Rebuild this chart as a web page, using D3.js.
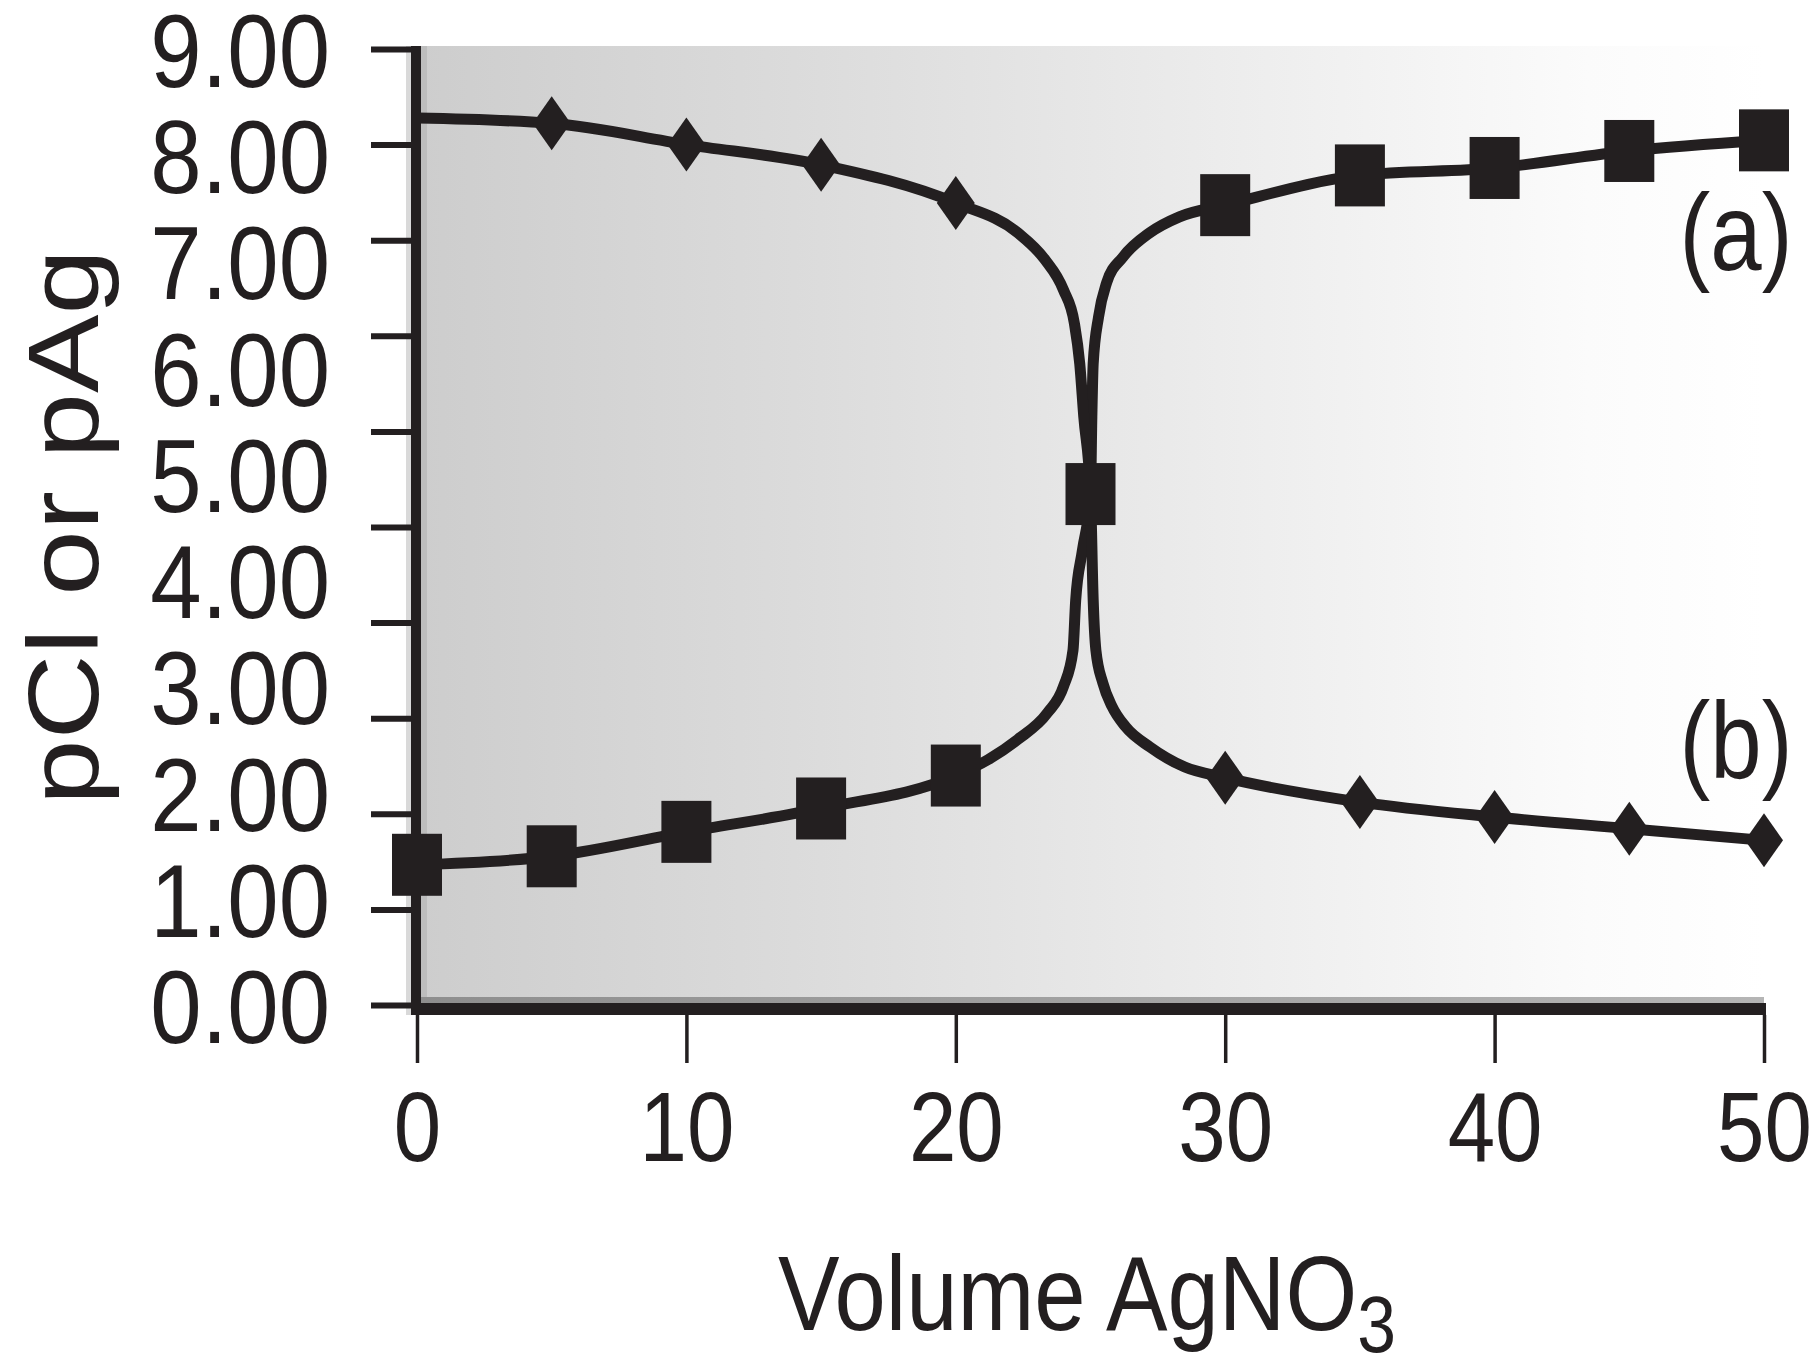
<!DOCTYPE html>
<html>
<head>
<meta charset="utf-8">
<script src="https://cdn.jsdelivr.net/npm/d3@7"></script>
<style>
    body { margin: 0; background: #ffffff; }
    svg { display: block; }
    text { font-family: "Liberation Sans", Arial, sans-serif; fill: #231f20; }
</style>
</head>
<body>
<svg id="chart"></svg>
<script>
'use strict';

// marker volumes (mL AgNO3) and readings of the two curves
var volumes = [0, 5, 10, 15, 20, 25, 30, 35, 40, 45, 50];
var pClValues = [1.32, 1.40, 1.63, 1.85, 2.16, 4.81, 7.53, 7.81, 7.88, 8.04, 8.14];
var pAgValues = [8.35, 8.30, 8.10, 7.91, 7.55, 4.81, 2.14, 1.91, 1.77, 1.66, 1.55];

var pClBendVolumes = [21.2, 22.3, 23.4, 24.0, 24.35, 24.45, 24.7, 25.05, 25.1, 25.3, 25.6, 26.2, 27.2, 28.3];
var pClBendValues = [2.31, 2.50, 2.75, 3.00, 3.34, 3.81, 4.28, 5.54, 6.04, 6.48, 6.80, 7.04, 7.27, 7.42];
var pAgBendVolumes = [22.3, 23.3, 24.0, 24.4, 24.6, 24.75, 25.1, 25.2, 25.46, 25.8, 26.3, 27.2, 28.5];
var pAgBendValues = [7.27, 7.02, 6.73, 6.42, 6.04, 5.54, 3.81, 3.34, 3.03, 2.81, 2.62, 2.43, 2.24];

var yTickLabels = [0, 1, 2, 3, 4, 5, 6, 7, 8, 9];
var yTickMarks = [0, 0.9, 1.8, 2.7, 3.6, 4.5, 5.4, 6.3, 7.2, 8.1, 9];   // the original has 11 marks for 10 labels
var xTickLabels = [0, 10, 20, 30, 40, 50];
var seriesLabels = ['(a)', '(b)'];
var seriesLabelValues = [6.92, 2.14];

var canvasWidth = 1820;
var canvasHeight = 1362;
var ink = '#231f20';
var squeeze = 0.87;   // the printed figure is narrow type

var svg = d3.select('svg')
    .attr('width', canvasWidth)
    .attr('height', canvasHeight);

var xScale = d3.scaleLinear().domain([0, 50]).range([417, 1764]);
var yScale = d3.scaleLinear().domain([0, 9]).range([1005, 49]);

function zipSorted(xs, ys, bx, by) {
    var pts = xs.map(function (x, i) { return [x, ys[i]]; })
        .concat(bx.map(function (x, i) { return [x, by[i]]; }));
    return pts.sort(function (a, b) { return a[0] - b[0]; });
}

// background gradient panel
var defs = svg.append('defs');
var grad = defs.append('linearGradient').attr('id', 'bg').attr('x1', 0).attr('x2', 1).attr('y1', 0).attr('y2', 0);
grad.append('stop').attr('offset', 0).attr('stop-color', '#cdcdcd');
grad.append('stop').attr('offset', 0.3).attr('stop-color', '#dcdcdc');
grad.append('stop').attr('offset', 0.65).attr('stop-color', '#efefef');
grad.append('stop').attr('offset', 0.87).attr('stop-color', '#fbfbfb');
grad.append('stop').attr('offset', 1).attr('stop-color', '#ffffff');
var shade = defs.append('linearGradient').attr('id', 'shade').attr('x1', 0).attr('x2', 1).attr('y1', 0).attr('y2', 0);
shade.append('stop').attr('offset', 0).attr('stop-color', '#8e8e8e');
shade.append('stop').attr('offset', 1).attr('stop-color', '#b5b5b5');

svg.append('rect')
    .attr('x', xScale(0) - 1).attr('y', yScale(9) - 3)
    .attr('width', xScale(50) - xScale(0) + 1)
    .attr('height', yScale(0) - yScale(9) + 7)
    .attr('fill', 'url(#bg)');
// thin shadows along the axes
svg.append('rect')
    .attr('x', xScale(0) + 4).attr('y', yScale(9) - 3)
    .attr('width', 6).attr('height', yScale(0) - yScale(9) + 1)
    .attr('fill', '#bdbdbd');
svg.append('rect')
    .attr('x', xScale(0) - 11).attr('y', yScale(9) - 3)
    .attr('width', 6).attr('height', yScale(0) - yScale(9) + 13)
    .attr('fill', '#d9d9d9');
svg.append('rect')
    .attr('x', xScale(0)).attr('y', yScale(0) - 8)
    .attr('width', xScale(50) - xScale(0)).attr('height', 6)
    .attr('fill', 'url(#shade)');

// curves
var line = d3.line()
    .x(function (d) { return xScale(d[0]); })
    .y(function (d) { return yScale(d[1]); })
    .curve(d3.curveMonotoneX);

var curves = [
    zipSorted(volumes, pClValues, pClBendVolumes, pClBendValues),
    zipSorted(volumes, pAgValues, pAgBendVolumes, pAgBendValues)
];
svg.selectAll('path.curve')
    .data(curves)
    .enter()
    .append('path')
    .attr('class', 'curve')
    .attr('d', line)
    .attr('fill', 'none')
    .attr('stroke', ink)
    .attr('stroke-width', 11)
    .attr('stroke-linejoin', 'round');

// diamonds (pAg); none at 0 and the one at 25 sits under the square
var diamonds = volumes.map(function (v, i) { return [v, pAgValues[i]]; })
    .filter(function (d) { return d[0] > 0 && d[0] !== 25; });
svg.selectAll('path.diamond')
    .data(diamonds)
    .enter()
    .append('path')
    .attr('class', 'diamond')
    .attr('d', function (d) {
        var cx = xScale(d[0]), cy = yScale(d[1]);
        return 'M' + cx + ',' + (cy - 27) + 'L' + (cx + 19) + ',' + cy +
            'L' + cx + ',' + (cy + 27) + 'L' + (cx - 19) + ',' + cy + 'Z';
    })
    .attr('fill', ink);

// squares (pCl)
svg.selectAll('rect.square')
    .data(volumes.map(function (v, i) { return [v, pClValues[i]]; }))
    .enter()
    .append('rect')
    .attr('class', 'square')
    .attr('x', function (d) { return xScale(d[0]) - 25; })
    .attr('y', function (d) { return yScale(d[1]) - 31; })
    .attr('width', 50)
    .attr('height', 62)
    .attr('fill', ink);

// axis lines
svg.append('line')
    .attr('x1', xScale(0) - 1).attr('x2', xScale(0) - 1)
    .attr('y1', yScale(9) - 3).attr('y2', yScale(0) + 10)
    .attr('stroke', ink).attr('stroke-width', 10);
svg.append('line')
    .attr('x1', xScale(0) - 6).attr('x2', xScale(50) + 2)
    .attr('y1', yScale(0) + 4).attr('y2', yScale(0) + 4)
    .attr('stroke', ink).attr('stroke-width', 12);

// y tick marks
var yMarks = svg.append('g')
    .attr('transform', 'translate(' + (xScale(0) - 6) + ',0)')
    .call(d3.axisLeft(yScale).tickValues(yTickMarks).tickSize(40).tickFormat(''));
yMarks.select('.domain').remove();
yMarks.selectAll('.tick line').attr('stroke', ink).attr('stroke-width', 6);

// y tick labels
var yLabels = svg.append('g')
    .attr('transform', 'translate(' + (xScale(0) - 1) + ',0)')
    .call(d3.axisLeft(yScale).tickValues(yTickLabels).tickSize(0).tickPadding(86).tickFormat(d3.format('.2f')));
yLabels.select('.domain').remove();
yLabels.selectAll('.tick text')
    .style('font-size', '104px')
    .attr('dy', '0.36em')
    .each(function () {
        d3.select(this).attr('textLength', this.getComputedTextLength() * squeeze * 1.02)
            .attr('lengthAdjust', 'spacingAndGlyphs');
    });

// x axis ticks and labels
var xAxis = svg.append('g')
    .attr('transform', 'translate(0,' + (yScale(0) + 10) + ')')
    .call(d3.axisBottom(xScale).tickValues(xTickLabels).tickSize(48).tickPadding(28).tickFormat(d3.format('d')));
xAxis.select('.domain').remove();
xAxis.selectAll('.tick line').attr('stroke', ink).attr('stroke-width', 3.5);
xAxis.selectAll('.tick text')
    .style('font-size', '98px')
    .each(function () {
        d3.select(this).attr('textLength', this.getComputedTextLength() * squeeze)
            .attr('lengthAdjust', 'spacingAndGlyphs');
    });

// axis titles
svg.append('text')
    .attr('transform', 'translate(98,' + yScale(4.5) + ') rotate(-90)')
    .attr('text-anchor', 'middle')
    .style('font-size', '100px')
    .attr('textLength', 556)
    .attr('lengthAdjust', 'spacingAndGlyphs')
    .text('pCl or pAg');

var xTitle = svg.append('text')
    .attr('transform', 'translate(778,1330) scale(' + squeeze + ',1)')
    .style('font-size', '106px');
xTitle.append('tspan').text('Volume AgNO');
xTitle.append('tspan').attr('dy', 22).style('font-size', '80px').text('3');

// series labels
svg.selectAll('text.series')
    .data(seriesLabels)
    .enter()
    .append('text')
    .attr('class', 'series')
    .attr('x', xScale(50) - 28)
    .attr('y', function (d, i) { return yScale(seriesLabelValues[i]); })
    .attr('text-anchor', 'middle')
    .style('font-size', '110px')
    .text(function (d) { return d; })
    .each(function () {
        d3.select(this).attr('textLength', this.getComputedTextLength() * 0.84)
            .attr('lengthAdjust', 'spacingAndGlyphs');
    });
</script>
</body>
</html>
